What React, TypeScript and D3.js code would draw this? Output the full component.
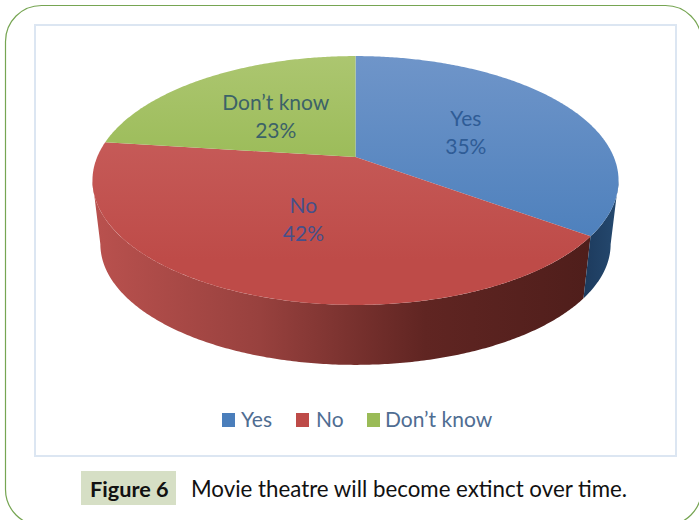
import React from "react";
import * as d3 from "d3";

const categories = ["Yes", "No", "Don’t know"];
const shares = [35, 42, 23];
const topColours = [
  ["#6f95c9", "#4a7ebb"],
  ["#cb6563", "#be4b48"],
  ["#acc670", "#9abb57"],
];
const sideStops = [
  ["#1d3b5e", "#25496f"],
  ["#b9514e", "#98413e", "#602522", "#4f1e1b"],
];
const labelColours = ["#2f5c96", "#45508a", "#3c6268"];
const legendColours = ["#4a7ebb", "#be4b48", "#9abb57"];
const legendSwatchX = [222, 296, 367];
const legendTextX = [241, 316, 385];

const W = 699;
const H = 520;
const FONT = "Lato, 'Open Sans', sans-serif";

// Perspective disc: the far edge is foreshortened, so the hub sits above the ellipse centre.
const HUB_X = 355.5;
const HUB_Y = 157;
const FOCAL_X = 258.3;
const FOCAL_Y = 120;
const TILT = 0.1888;
const DEPTH_SCALE = 0.97;
const BASE_HUB_Y = 221.4;

function project(theta: number, r = 1, lower = false): [number, number] {
  const u = Math.sin(theta) * r;
  const v = Math.cos(theta) * r;
  const w = 1 + TILT * v;
  const s = lower ? DEPTH_SCALE : 1;
  const hy = lower ? BASE_HUB_Y : HUB_Y;
  return [HUB_X + (s * FOCAL_X * u) / w, hy - (s * FOCAL_Y * v) / w];
}

function sweep(a0: number, a1: number, lower = false): [number, number][] {
  const n = Math.max(2, Math.ceil(Math.abs(a1 - a0) / 0.01));
  return d3.range(n + 1).map((i) => project(a0 + ((a1 - a0) * i) / n, 1, lower));
}

const line = d3.line();
const slices = d3.pie<number>().sort(null).startAngle(0).endAngle(2 * Math.PI)(shares);

// Angle at which the rim reaches its widest point on either side.
const RIM_RIGHT = Math.acos(-TILT);
const RIM_LEFT = 2 * Math.PI - RIM_RIGHT;

export default function App() {
  const blueSide = [...sweep(RIM_RIGHT, slices[0].endAngle), ...sweep(slices[0].endAngle, RIM_RIGHT, true)];
  const redSide = [...sweep(slices[0].endAngle, RIM_LEFT), ...sweep(RIM_LEFT, slices[0].endAngle, true)];
  return (
    <svg
      width={W}
      height={H}
      viewBox={`0 0 ${W} ${H}`}
      style={{ position: "absolute", left: 0, top: 0, background: "#fff" }}
    >
      <defs>
        {topColours.map((c, i) => (
          <linearGradient key={i} id={`top${i}`} gradientUnits="userSpaceOnUse" x1="0" x2="0" y1={56} y2={i === 2 ? 170 : 260}>
            <stop offset="0" stopColor={c[0]} />
            <stop offset="1" stopColor={c[1]} />
          </linearGradient>
        ))}
        <linearGradient id="sideRed" gradientUnits="userSpaceOnUse" x1={95} x2={590} y1="0" y2="0">
          {sideStops[1].map((c, i) => (
            <stop key={i} offset={i / (sideStops[1].length - 1)} stopColor={c} />
          ))}
        </linearGradient>
        <linearGradient id="sideBlue" gradientUnits="userSpaceOnUse" x1={585} x2={618} y1="0" y2="0">
          {sideStops[0].map((c, i) => (
            <stop key={i} offset={i} stopColor={c} />
          ))}
        </linearGradient>
      </defs>

      {/* Page panel and chart frame */}
      <rect x={5.5} y={5.5} width={696} height={520} rx={36} ry={36} fill="none" stroke="#76a552" strokeWidth={1.2} />
      <rect x={35} y={25} width={641} height={431} fill="#fff" stroke="#dce6f2" strokeWidth={2} />

      {/* Extruded rim */}
      <path d={line(redSide)! + "Z"} fill="url(#sideRed)" />
      <path d={line(blueSide)! + "Z"} fill="url(#sideBlue)" />

      {/* Top faces */}
      {slices.map((s, i) => (
        <path
          key={i}
          d={line([[HUB_X, HUB_Y], ...sweep(s.startAngle, s.endAngle)])! + "Z"}
          fill={`url(#top${i})`}
        />
      ))}

      {/* Data labels at half radius */}
      {slices.map((s, i) => {
        const [x, y] = project((s.startAngle + s.endAngle) / 2, 0.5);
        return (
          <text key={i} x={x} textAnchor="middle" fontFamily={FONT} fontSize={21} fill={labelColours[i]}>
            <tspan x={x} y={y - 5}>{categories[i]}</tspan>
            <tspan x={x} y={y + 23}>{`${shares[i]}%`}</tspan>
          </text>
        );
      })}

      {/* Legend */}
      {categories.map((c, i) => (
        <g key={c}>
          <rect x={legendSwatchX[i]} y={413} width={13} height={14} fill={legendColours[i]} />
          <text x={legendTextX[i]} y={427} fontFamily={FONT} fontSize={21} fill="#4f6d92">{c}</text>
        </g>
      ))}

      {/* Caption */}
      <rect x={81} y={471} width={95} height={34} fill="#d6dfc5" />
      <text x={90} y={497} fontFamily={FONT} fontSize={21.7} fontWeight={700} fill="#111">Figure 6</text>
      <text x={191} y={497} fontFamily={FONT} fontSize={22.3} fill="#111">Movie theatre will become extinct over time.</text>
    </svg>
  );
}
